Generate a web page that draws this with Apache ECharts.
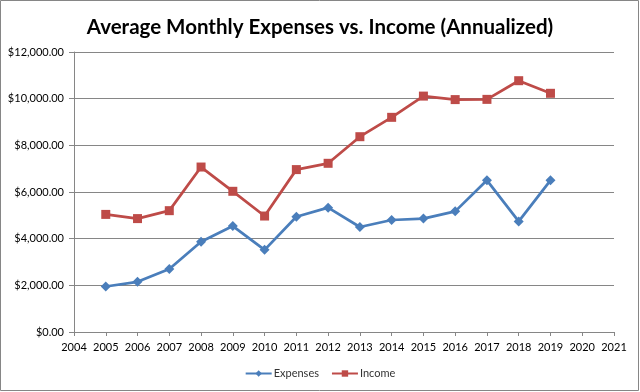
<!DOCTYPE html>
<html>
<head>
<meta charset="utf-8">
<script src="https://cdn.jsdelivr.net/npm/echarts@6/dist/echarts.min.js"></script>
<style>
html,body{margin:0;padding:0;background:#fff;}
#chart{width:640px;height:392px;}
</style>
</head>
<body>
<div id="chart"></div>
<script>
var years = [2005,2006,2007,2008,2009,2010,2011,2012,2013,2014,2015,2016,2017,2018,2019];
var expenses = [1950,2150,2700,3870,4540,3520,4940,5330,4500,4800,4860,5170,6500,4740,6500];
var income = [5040,4860,5200,7070,6030,4970,6960,7230,8370,9200,10110,9960,9970,10770,10230];
var seriesNames = ['Expenses','Income'];
var xMin = 2004, xMax = 2021, xStep = 1;
var yMin = 0, yMax = 12000, yStep = 2000;

function pairs(vals){ return years.map(function(y,i){ return [y, vals[i]]; }); }

var chart = echarts.init(document.getElementById('chart'));
var font = 'Lato, "Noto Sans", sans-serif';
chart.setOption({
  animation:false,
  backgroundColor:'#fff',
  title:{
    text:'Average Monthly Expenses vs. Income (Annualized)',
    left:'center', top:12,
    textStyle:{fontFamily:font, fontWeight:'bold', fontSize:20.5, color:'#000'}
  },
  graphic:[{
    type:'rect', shape:{x:0.5,y:0.5,width:638,height:390},
    style:{fill:'none', stroke:'#868686', lineWidth:1}, silent:true, z:-1
  }],
  legend:{
    bottom:8, left:'center',
    itemWidth:26, itemHeight:8, itemGap:12,
    textStyle:{fontFamily:font, fontSize:11, color:'#333', padding:[0,0,0,-3]},
    data:seriesNames
  },
  grid:{left:74, right:26, top:52, bottom:60},
  xAxis:{
    type:'value', min:xMin, max:xMax, interval:xStep,
    axisLine:{show:true, lineStyle:{color:'#868686'}},
    axisTick:{show:true, inside:false, length:4, lineStyle:{color:'#868686'}},
    axisLabel:{fontFamily:font, fontSize:11, color:'#000', margin:10, formatter:function(v){return String(v);}},
    splitLine:{show:false}
  },
  yAxis:{
    type:'value', min:yMin, max:yMax, interval:yStep,
    axisLine:{show:true, lineStyle:{color:'#868686'}},
    axisTick:{show:true, length:5, lineStyle:{color:'#868686'}},
    axisLabel:{fontFamily:font, fontSize:11, color:'#000', margin:10,
      formatter:function(v){ return '$' + v.toLocaleString('en-US',{minimumFractionDigits:2, maximumFractionDigits:2}); }},
    splitLine:{show:true, lineStyle:{color:'#868686', width:1}}
  },
  series:[
    {name:seriesNames[0], type:'line', data:pairs(expenses), symbol:'diamond', symbolSize:10,
      lineStyle:{color:'#4A7EBB', width:2.75}, itemStyle:{color:'#4A7EBB'}},
    {name:seriesNames[1], type:'line', data:pairs(income), symbol:'rect', symbolSize:9,
      lineStyle:{color:'#BE4B48', width:2.75}, itemStyle:{color:'#BE4B48'}}
  ]
});
</script>
</body>
</html>
